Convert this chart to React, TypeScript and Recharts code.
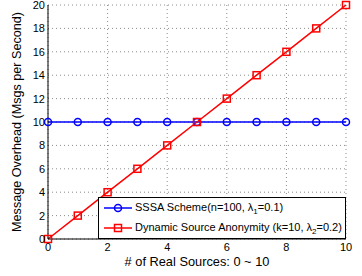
import React from 'react';
import { LineChart, Line, XAxis, YAxis, CartesianGrid, Legend } from 'recharts';

const sources = [0, 1, 2, 3, 4, 5, 6, 7, 8, 9, 10];
const sssaOverhead = [10, 10, 10, 10, 10, 10, 10, 10, 10, 10, 10];
const dsaOverhead = [0, 2, 4, 6, 8, 10, 12, 14, 16, 18, 20];
const xTicks = [0, 2, 4, 6, 8, 10];
const yTicks = [0, 2, 4, 6, 8, 10, 12, 14, 16, 18, 20];
const xTitle = '# of Real Sources: 0 ~ 10';
const yTitle = 'Message Overhead (Msgs per Second)';

const FONT = '"Liberation Sans", Arial, Helvetica, sans-serif';
const BLUE = '#0000ff';
const RED = '#ff0000';

const data = sources.map((s, i) => ({ x: s, sssa: sssaOverhead[i], dsa: dsaOverhead[i] }));

const SquareDot = (props: any) => {
  const { cx, cy, index } = props;
  if (cx == null || cy == null) return <g key={`sq-${index}`} />;
  return (
    <rect
      key={`sq-${index}`}
      x={cx - 3.5}
      y={cy - 3.5}
      width={7}
      height={7}
      fill="none"
      stroke={RED}
      strokeWidth={1.5}
    />
  );
};

const YTitle = (p: any) => {
  const vb = p.viewBox || { x: 0, y: 5, width: 48, height: 234 };
  const cx = vb.x + 17;
  const cy = vb.y + vb.height / 2;
  return (
    <text
      x={cx}
      y={cy}
      transform={`rotate(-90 ${cx} ${cy})`}
      textAnchor="middle"
      dominantBaseline="central"
      fontSize={12.6}
      fontFamily={FONT}
      fill="#000"
    >
      {yTitle}
    </text>
  );
};

const XTitle = (p: any) => {
  const vb = p.viewBox || { x: 48, y: 239, width: 298, height: 37 };
  const cx = vb.x + vb.width / 2;
  const cy = vb.y + 22;
  return (
    <text
      x={cx}
      y={cy}
      textAnchor="middle"
      dominantBaseline="central"
      fontSize={12.8}
      fontFamily={FONT}
      fill="#000"
    >
      {xTitle}
    </text>
  );
};

const LegendBox = () => (
  <div
    style={{
      width: 248,
      height: 42,
      boxSizing: 'border-box',
      border: '1px solid #000',
      background: '#fff',
      fontFamily: FONT,
      fontSize: 11,
      color: '#000',
      position: 'relative',
    }}
  >
    {[
      { color: BLUE, shape: 'circle', label: ['SSSA Scheme(n=100, λ', '1', '=0.1)'], top: 10 },
      { color: RED, shape: 'square', label: ['Dynamic Source Anonymity (k=10, λ', '2', '=0.2)'], top: 30 },
    ].map((row, i) => (
      <div key={i} style={{ position: 'absolute', left: 0, top: row.top - 10, height: 20, width: '100%' }}>
        <svg width={36} height={20} style={{ position: 'absolute', left: 0, top: 0 }}>
          <line x1={5} y1={10} x2={33} y2={10} stroke={row.color} strokeWidth={1.5} />
          {row.shape === 'circle' ? (
            <circle cx={19} cy={10} r={3.5} fill="none" stroke={row.color} strokeWidth={1.5} />
          ) : (
            <rect x={15.5} y={6.5} width={7} height={7} fill="none" stroke={row.color} strokeWidth={1.5} />
          )}
        </svg>
        <div style={{ position: 'absolute', left: 36, top: 3, whiteSpace: 'nowrap', lineHeight: '13px' }}>
          {row.label[0]}
          <span style={{ fontSize: 8, position: 'relative', top: 3 }}>{row.label[1]}</span>
          {row.label[2]}
        </div>
      </div>
    ))}
  </div>
);

export default function App() {
  return (
    <div style={{ position: 'absolute', left: 0, top: 0, width: 362, height: 276, background: '#fff', fontFamily: FONT }}>
      <LineChart width={362} height={276} data={data} margin={{ top: 5, right: 16, bottom: 0, left: 0 }}>
        <CartesianGrid
          stroke="#8c8c8c"
          strokeDasharray="1 3"
          verticalValues={xTicks}
          horizontalValues={yTicks}
        />
        <XAxis
          dataKey="x"
          type="number"
          domain={[0, 10]}
          ticks={xTicks}
          interval={0}
          height={37}
          tickLine={false}
          tickSize={0}
          tickMargin={4}
          axisLine={{ stroke: '#000', strokeWidth: 1 }}
          tick={{ fill: '#000', fontSize: 11, fontFamily: FONT }}
          label={{ content: XTitle }}
        />
        <XAxis
          xAxisId="top"
          orientation="top"
          dataKey="x"
          type="number"
          domain={[0, 10]}
          height={0}
          tick={false}
          tickLine={false}
          axisLine={{ stroke: '#000', strokeWidth: 1 }}
        />
        <YAxis
          type="number"
          domain={[0, 20]}
          ticks={yTicks}
          interval={0}
          width={48}
          tickLine={false}
          tickSize={0}
          tickMargin={3}
          axisLine={{ stroke: '#000', strokeWidth: 1 }}
          tick={{ fill: '#000', fontSize: 11, fontFamily: FONT }}
          label={{ content: YTitle }}
        />
        <YAxis
          yAxisId="right"
          orientation="right"
          type="number"
          domain={[0, 20]}
          width={0}
          tick={false}
          tickLine={false}
          axisLine={{ stroke: '#000', strokeWidth: 1 }}
        />
        <Line
          type="linear"
          dataKey="sssa"
          stroke={BLUE}
          strokeWidth={1.5}
          dot={{ r: 3.5, stroke: BLUE, fill: 'none', strokeWidth: 1.5 }}
          activeDot={false}
          isAnimationActive={false}
        />
        <Line
          type="linear"
          dataKey="dsa"
          stroke={RED}
          strokeWidth={1.5}
          dot={SquareDot}
          activeDot={false}
          isAnimationActive={false}
        />
        <Legend
          layout="vertical"
          align="center"
          verticalAlign="middle"
          content={LegendBox}
          wrapperStyle={{ position: 'absolute', left: 98, top: 197, width: 248, height: 42 }}
        />
      </LineChart>
    </div>
  );
}
